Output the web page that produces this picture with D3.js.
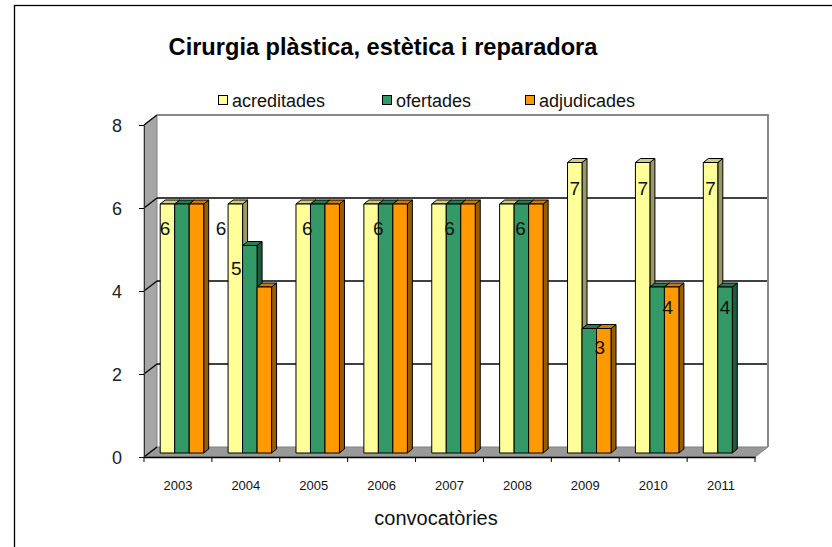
<!DOCTYPE html>
<html>
<head>
<meta charset="utf-8">
<script src="https://cdn.jsdelivr.net/npm/d3@7"></script>
<style>
  body { margin: 0; background: #fff; }
  svg { display: block; font-family: "Liberation Sans", Arial, sans-serif; }
</style>
</head>
<body>
<svg width="832" height="547"></svg>
<script>
// chart data
const years = ["2003", "2004", "2005", "2006", "2007", "2008", "2009", "2010", "2011"];
const seriesNames = ["acreditades", "ofertades", "adjudicades"];
const acreditades = [6, 6, 6, 6, 6, 6, 7, 7, 7];
const ofertades = [6, 5, 6, 6, 6, 6, 3, 4, 4];
const adjudicades = [6, 4, 6, 6, 6, 6, 3, 4, null];
const yTicks = [0, 2, 4, 6, 8];
// labels that are not hidden behind other bars in the original
const shownLabels = [
  ["ofertades"], ["acreditades", "ofertades"], ["ofertades"], ["ofertades"],
  ["ofertades"], ["ofertades"], ["acreditades", "adjudicades"],
  ["acreditades", "adjudicades"], ["acreditades", "ofertades"]
];

const colours = {
  acreditades: { front: "#ffff99", top: "#cccc7a", side: "#999966" },
  ofertades: { front: "#339966", top: "#297a52", side: "#1f5c3d" },
  adjudicades: { front: "#ff9900", top: "#cc7a00", side: "#995c00" }
};

const values = { acreditades, ofertades, adjudicades };

const svg = d3.select("svg");
const wall = { dx: 13, dy: -10 };   // depth of the chart box
const barShift = { dx: 4, dy: -4 }; // bars sit part way into the box
const barDepth = { dx: 5, dy: -4 };

const x = d3.scaleBand().domain(years).range([144, 755]);
const y = d3.scaleLinear().domain([0, 8]).range([457, 125]);
const barW = 14.5;
const xs = d3.scaleBand().domain(seriesNames).range([0, barW * 3]);
const groupOff = (x.bandwidth() - barW * 3) / 2 + barShift.dx;

// outer frame
svg.append("rect")
  .attr("x", 14.5).attr("y", 5.5)
  .attr("width", 840).attr("height", 560)
  .attr("fill", "none").attr("stroke", "#000").attr("stroke-width", 1.3);

// title
svg.append("text")
  .attr("x", 383).attr("y", 55)
  .attr("text-anchor", "middle")
  .style("font-size", "23.6px").style("font-weight", "bold")
  .text("Cirurgia plàstica, estètica i reparadora");

// legend
const legendX = [218, 382, 525];
const legend = svg.append("g");
seriesNames.forEach((s, i) => {
  legend.append("rect")
    .attr("x", legendX[i] + 0.5).attr("y", 95.5)
    .attr("width", 9).attr("height", 9)
    .attr("fill", colours[s].front).attr("stroke", "#000");
  legend.append("text")
    .attr("x", legendX[i] + 14).attr("y", 107)
    .style("font-size", "18px").attr("fill", "#111")
    .text(s);
});

const x0 = x.range()[0], x1 = x.range()[1];
const yTop = y(8), yBot = y(0);

// back wall
svg.append("rect")
  .attr("x", x0 + wall.dx).attr("y", yTop + wall.dy)
  .attr("width", x1 - x0).attr("height", yBot - yTop)
  .attr("fill", "#fff");

// left wall
svg.append("path")
  .attr("d", `M${x0},${yTop}L${x0 + wall.dx},${yTop + wall.dy}L${x0 + wall.dx},${yBot + wall.dy}L${x0},${yBot}Z`)
  .attr("fill", "#a6a6a6").attr("stroke", "#808080");

// floor
svg.append("path")
  .attr("d", `M${x0},${yBot}L${x0 + wall.dx},${yBot + wall.dy}L${x1 + wall.dx},${yBot + wall.dy}L${x1},${yBot}Z`)
  .attr("fill", "#999999").attr("stroke", "#808080");

// gridlines on back wall and left wall
yTicks.filter(t => t > 0 && t < 8).forEach(t => {
  svg.append("line")
    .attr("x1", x0 + wall.dx).attr("x2", x1 + wall.dx)
    .attr("y1", y(t) + wall.dy).attr("y2", y(t) + wall.dy)
    .attr("stroke", "#000").attr("stroke-width", 1.5);
});
yTicks.forEach(t => {
  svg.append("line")
    .attr("x1", x0).attr("y1", y(t))
    .attr("x2", x0 + wall.dx).attr("y2", y(t) + wall.dy)
    .attr("stroke", "#000").attr("stroke-width", 1.2);
});

// back wall border (top and right)
svg.append("path")
  .attr("d", `M${x0 + wall.dx},${yTop + wall.dy}L${x1 + wall.dx},${yTop + wall.dy}L${x1 + wall.dx},${yBot + wall.dy}`)
  .attr("fill", "none").attr("stroke", "#888").attr("stroke-width", 2);

// y axis
const yAxis = d3.axisLeft(y).tickValues(yTicks).tickSize(5).tickPadding(17);
svg.append("g")
  .attr("transform", `translate(${x0},0)`)
  .call(yAxis)
  .call(g => g.select(".domain").attr("stroke", "#333"))
  .call(g => g.selectAll("text")
    .style("font-size", "18px").style("font-family", "inherit").attr("fill", "#222").attr("dy", "0.36em"));

// x axis
const xAxis = d3.axisBottom(x).tickSize(0).tickPadding(24);
svg.append("g")
  .attr("transform", `translate(0,${yBot})`)
  .call(xAxis)
  .call(g => g.select(".domain").attr("stroke", "#000").attr("stroke-width", 1.3))
  .call(g => g.selectAll("text")
    .style("font-size", "13px").style("font-family", "inherit").attr("fill", "#111"));

// category boundary ticks
const bounds = years.map(d => x(d)).concat([x1]);
svg.append("g").selectAll("line").data(bounds).join("line")
  .attr("x1", d => d).attr("x2", d => d)
  .attr("y1", yBot).attr("y2", yBot + 5)
  .attr("stroke", "#000");

// bars
const bars = svg.append("g");
years.forEach((yr, i) => {
  seriesNames.forEach(s => {
    const v = values[s][i];
    if (v == null) return;
    const bx = x(yr) + groupOff + xs(s);
    const by0 = y(0) + barShift.dy;
    const by1 = y(v) + barShift.dy;
    const c = colours[s];
    const g = bars.append("g").attr("stroke", "#000").attr("stroke-width", 1).attr("stroke-linejoin", "round");
    // side
    g.append("path")
      .attr("d", `M${bx + barW},${by1}L${bx + barW + barDepth.dx},${by1 + barDepth.dy}L${bx + barW + barDepth.dx},${by0 + barDepth.dy}L${bx + barW},${by0}Z`)
      .attr("fill", c.side);
    // top
    g.append("path")
      .attr("d", `M${bx},${by1}L${bx + barDepth.dx},${by1 + barDepth.dy}L${bx + barW + barDepth.dx},${by1 + barDepth.dy}L${bx + barW},${by1}Z`)
      .attr("fill", c.top);
    // front
    g.append("rect")
      .attr("x", bx).attr("y", by1)
      .attr("width", barW).attr("height", by0 - by1)
      .attr("fill", c.front);
  });
});

// data labels
const labels = svg.append("g");
years.forEach((yr, i) => {
  shownLabels[i].forEach(s => {
    const v = values[s][i];
    const cx = x(yr) + groupOff + xs(s) + barW / 2;
    const lx = cx + Math.min(0, (cx - 540) * 0.047) - (s === "adjudicades" ? 4 : 0);
    const ly = y(v) + barShift.dy + 20 + v * 1.8;
    labels.append("text")
      .attr("x", lx).attr("y", ly)
      .attr("text-anchor", "middle")
      .style("font-size", "19px").attr("fill", "#111")
      .text(v);
  });
});

// x axis title
svg.append("text")
  .attr("x", 436).attr("y", 525)
  .attr("text-anchor", "middle")
  .style("font-size", "20px").attr("fill", "#111")
  .text("convocatòries");
</script>
</body>
</html>
